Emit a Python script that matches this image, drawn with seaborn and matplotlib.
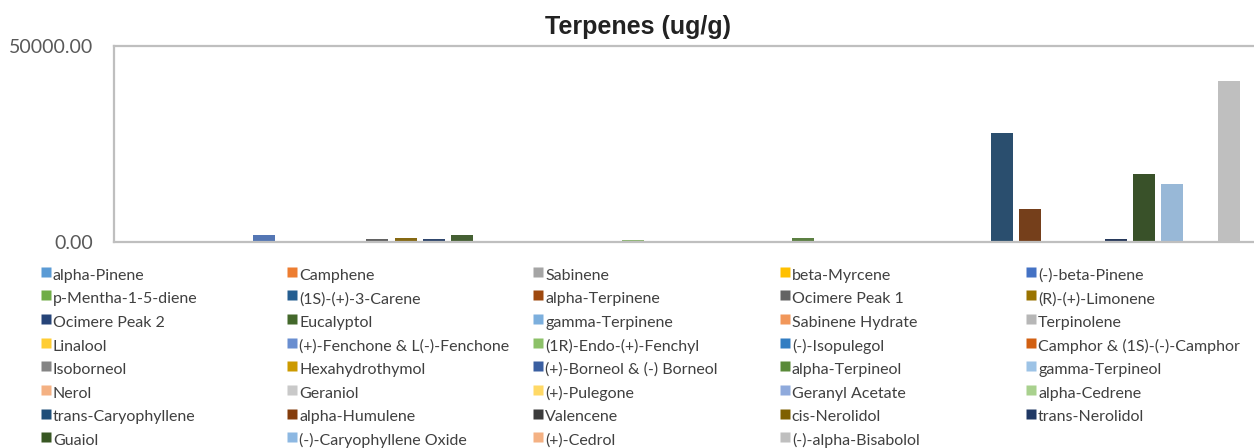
import matplotlib
matplotlib.use("Agg")
import matplotlib.pyplot as plt
from matplotlib.lines import Line2D
import seaborn as sns
import pandas as pd

terpenes = [
    "alpha-Pinene", "Camphene", "Sabinene", "beta-Myrcene", "(-)-beta-Pinene",
    "p-Mentha-1-5-diene", "(1S)-(+)-3-Carene", "alpha-Terpinene", "Ocimere Peak 1", "(R)-(+)-Limonene",
    "Ocimere Peak 2", "Eucalyptol", "gamma-Terpinene", "Sabinene Hydrate", "Terpinolene",
    "Linalool", "(+)-Fenchone & L(-)-Fenchone", "(1R)-Endo-(+)-Fenchyl", "(-)-Isopulegol", "Camphor & (1S)-(-)-Camphor",
    "Isoborneol", "Hexahydrothymol", "(+)-Borneol & (-) Borneol", "alpha-Terpineol", "gamma-Terpineol",
    "Nerol", "Geraniol", "(+)-Pulegone", "Geranyl Acetate", "alpha-Cedrene",
    "trans-Caryophyllene", "alpha-Humulene", "Valencene", "cis-Nerolidol", "trans-Nerolidol",
    "Guaiol", "(-)-Caryophyllene Oxide", "(+)-Cedrol", "(-)-alpha-Bisabolol",
]
values_ug_g = [
    200, 0, 0, 0, 1900,
    0, 0, 0, 700, 1100,
    700, 1800, 250, 0, 0,
    0, 0, 600, 0, 0,
    0, 0, 0, 1100, 0,
    0, 0, 0, 0, 0,
    27900, 8400, 0, 0, 700,
    17300, 14700, 0, 41100,
]
y_ticks = [0, 50000]
y_tick_labels = ["0.00", "50000.00"]

colors = [
    "#5B9BD5", "#ED7D31", "#A5A5A5", "#FFC000", "#4472C4",
    "#70AD47", "#255E91", "#9E480E", "#636363", "#997300",
    "#264478", "#43682B", "#7CAFDD", "#F1975A", "#B7B7B7",
    "#FFCD33", "#698ED0", "#8CC168", "#327DC2", "#D26012",
    "#848484", "#CC9A00", "#3A5FA1", "#5A8A39", "#9DC3E6",
    "#F4B183", "#C9C9C9", "#FFD966", "#8FAADC", "#A9D18E",
    "#1F4E79", "#843C0C", "#3B3B3B", "#7F6000", "#203864",
    "#385723", "#8DB8E2", "#F4B183", "#BFBFBF",
]

df = pd.DataFrame({"terpene": terpenes, "value": values_ug_g})

sns.set_theme(style="white")
plt.rcParams["font.family"] = ["Lato", "DejaVu Sans"]

W, H = 1254, 448
fig = plt.figure(figsize=(W / 100, H / 100), dpi=100)
left, right, top, bottom = 114, 1266, 46, 242
ax = fig.add_axes([left / W, (H - bottom) / H, (right - left) / W, (bottom - top) / H])

sns.barplot(data=df, x="terpene", y="value", hue="terpene", palette=colors,
            order=terpenes, hue_order=terpenes, width=0.775, legend=False,
            linewidth=0, ax=ax)

px_per_unit = 28.4
first_center = 150.0
ax.set_xlim((left - first_center) / px_per_unit, (right - first_center) / px_per_unit)
ax.set_ylim(0, 50000)
ax.set_xticks([])
ax.set_xlabel("")
ax.set_ylabel("")
ax.set_yticks(y_ticks)
ax.set_yticklabels(y_tick_labels, fontsize=14, color="#595959")
ax.tick_params(axis="y", length=0, pad=15)
for s in ax.spines.values():
    s.set_color("#BFBFBF")
    s.set_linewidth(1.6)

fig.text(638 / W, 1 - 27 / H, "Terpenes (ug/g)", ha="center", va="center",
         fontsize=18, fontweight="bold", family=["Liberation Sans", "DejaVu Sans"], color="#222222")

ncols = 5
col_x = [40, 286.3, 532.6, 779, 1025.3]
for c in range(ncols):
    idx = list(range(c, len(terpenes), ncols))
    handles = [Line2D([], [], marker="s", linestyle="none", markersize=7.2,
                      markerfacecolor=colors[i], markeredgecolor="none") for i in idx]
    labels = [terpenes[i] for i in idx]
    fig.legend(handles, labels, loc="upper left",
               bbox_to_anchor=(col_x[c] / W, 1 - 264.0 / H),
               frameon=False, fontsize=11.5, borderpad=0, borderaxespad=0,
               handlelength=0.7, handleheight=1.63, handletextpad=0.1,
               labelspacing=0.175, labelcolor="#404040")

fig.savefig("out.png", dpi=100, facecolor="white")
